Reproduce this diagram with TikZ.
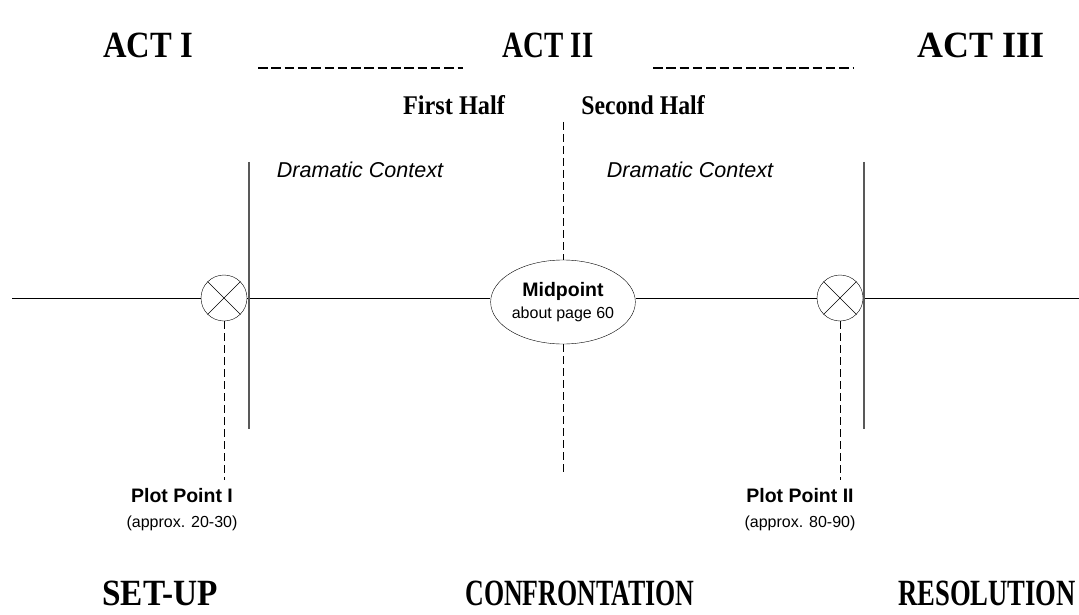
\documentclass[tikz,border=0pt]{standalone}
\usepackage{fontspec}
\setmainfont{Liberation Serif}
\setsansfont{Liberation Sans}
\usetikzlibrary{shapes,calc,positioning}

\begin{document}
\begin{tikzpicture}[x=1pt, y=-1pt,
    act/.style={font=\fontsize{37}{39}\selectfont\bfseries, inner sep=0pt},
    half/.style={font=\fontsize{27}{29}\selectfont\bfseries, inner sep=0pt},
    ctx/.style={font=\sffamily\itshape\fontsize{21.5}{24}\selectfont, inner sep=0pt},
    plotpt/.style={circle, draw, minimum size=46pt, inner sep=0pt},
    plotlab/.style={font=\sffamily\fontsize{19.5}{25}\selectfont, align=center, inner sep=0pt},
    tick/.style={draw=black!65, line width=1.5pt},
    guide/.style={dash pattern=on 8pt off 4pt},
    dashrow/.style={line width=2pt, dash pattern=on 9.5pt off 3.8pt}]

    \useasboundingbox (0,0) rectangle (1079,615);

    % acts and halves
    \node[act] (act1) at (148,45) {\scalebox{0.88}[1]{ACT I}};
    \node[act] (act2) at (548,45) {\scalebox{0.78}[1]{ACT II}};
    \node[act] (act3) at (981,45) {\scalebox{0.97}[1]{ACT III}};
    \coordinate (row1a) at (258,68);
    \coordinate (row1b) at (463,68);
    \coordinate (row2a) at (653,68);
    \coordinate (row2b) at (853,68);
    \draw[dashrow] (row1a) -- (row1b);
    \draw[dashrow] (row2a) -- (row2b);
    \node[half] (half1) at (454,105) {\scalebox{0.9}[1]{First Half}};
    \node[half] (half2) at (643,105) {\scalebox{0.88}[1]{Second Half}};

    \node[ctx] (ctx1) at (360,170) {Dramatic Context};
    \node[ctx] (ctx2) at (690,170) {Dramatic Context};

    % time line
    \coordinate (lstart) at (12,298);
    \coordinate (lend) at (1079,298);
    \node[plotpt] (pp1) at (224,298) {};
    \node[plotpt] (pp2) at (840,298) {};
    \node[ellipse, draw, minimum width=134pt, minimum height=84pt, inner sep=0pt, align=center, font=\sffamily] (mid) at (563,302)
        {{\fontsize{19.5}{22}\selectfont\bfseries Midpoint}\\[5pt]{\fontsize{16}{20}\selectfont about page 60}};
    \draw (pp1.north west) -- (pp1.south east);
    \draw (pp1.south west) -- (pp1.north east);
    \draw (pp2.north west) -- (pp2.south east);
    \draw (pp2.south west) -- (pp2.north east);
    \draw (lstart) -- (pp1.west);
    \draw (pp1.east) -- (pp1.east -| mid.west);
    \draw (mid.east |- pp2.west) -- (pp2.west);
    \draw (pp2.east) -- (lend);

    % act borders
    \coordinate (b1top) at (249,162);
    \coordinate (b1bot) at (249,429);
    \coordinate (b2top) at (864,162);
    \coordinate (b2bot) at (864,429);
    \draw[tick] (b1top) -- (b1bot);
    \draw[tick] (b2top) -- (b2bot);

    % dashed guides
    \coordinate (midtop) at (mid.north |- 0,122);
    \coordinate (midfoot) at (mid.south |- 0,475);
    \coordinate (pp1foot) at (pp1.south |- 0,480);
    \coordinate (pp2foot) at (pp2.south |- 0,480);
    \draw[guide] (midtop) -- (mid.north);
    \draw[guide] (mid.south) -- (midfoot);
    \draw[guide] (pp1.south) -- (pp1foot);
    \draw[guide] (pp2.south) -- (pp2foot);

    \node[plotlab] (lab1) at (182,510) {{\bfseries Plot Point I}\\{\fontsize{16}{25}\selectfont (approx. 20-30)}};
    \node[plotlab] (lab2) at (800,510) {{\bfseries Plot Point II}\\{\fontsize{16}{25}\selectfont (approx. 80-90)}};

    % stages
    \node[act] (setup) at (160,593) {\scalebox{0.9}[1]{SET-UP}};
    \node[act] (confr) at (580,593) {\scalebox{0.7}[1]{CONFRONTATION}};
    \node[act] (resol) at (987,593) {\scalebox{0.72}[1]{RESOLUTION}};

\end{tikzpicture}
\end{document}
